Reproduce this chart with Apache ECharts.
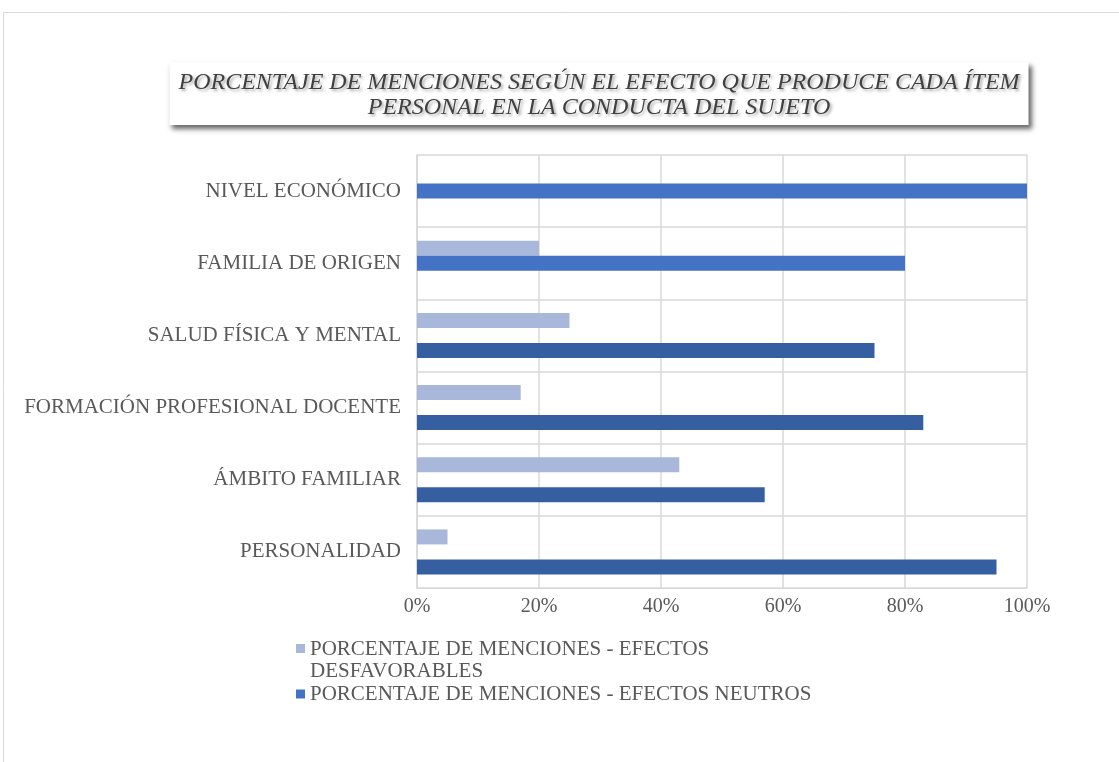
<!DOCTYPE html>
<html><head><meta charset="utf-8">
<script src="https://cdn.jsdelivr.net/npm/echarts@6/dist/echarts.min.js"></script>
<style>html,body{margin:0;padding:0;background:#fff}#c{width:1119px;height:762px}</style>
</head><body><div id="c"></div>
<script>
// Categories listed bottom-to-top (category axis runs upward)
const categories = ['PERSONALIDAD', 'ÁMBITO FAMILIAR', 'FORMACIÓN PROFESIONAL DOCENTE', 'SALUD FÍSICA Y MENTAL', 'FAMILIA DE ORIGEN', 'NIVEL ECONÓMICO'];
const desfavorables = [5, 43, 17, 25, 20, null];
const neutrosA = [null, null, null, null, 80, 100];   // centred bars (bright blue)
const neutrosB = [95, 57, 83, 75, null, null];       // offset bars (dark blue)
const xTicks = [0, 20, 40, 60, 80, 100];
const nameDesf = 'PORCENTAJE DE MENCIONES - EFECTOS DESFAVORABLES';
const nameNeu = 'PORCENTAJE DE MENCIONES - EFECTOS NEUTROS';
const titleText = 'PORCENTAJE DE MENCIONES SEGÚN EL EFECTO QUE PRODUCE CADA ÍTEM\nPERSONAL EN LA CONDUCTA DEL SUJETO';

const FONT = '"Liberation Serif", "Times New Roman", serif';
const chart = echarts.init(document.getElementById('c'));
chart.setOption({
  animation: false,
  textStyle: {fontFamily: FONT},
  graphic: [{type: 'rect', shape: {x: 3.5, y: 12.5, width: 1300, height: 900}, style: {fill: 'none', stroke: '#d9d9d9', lineWidth: 1}, silent: true}],
  title: {
    text: titleText,
    left: 590, top: 62, textAlign: 'center',
    backgroundColor: '#fff',
    padding: [8, 9, 5, 9],
    shadowBlur: 5, shadowColor: 'rgba(0,0,0,0.6)', shadowOffsetX: 3, shadowOffsetY: 4,
    textStyle: {fontFamily: FONT, fontStyle: 'italic', fontWeight: 'normal', fontSize: 24, lineHeight: 25, color: '#404040',
      textShadowColor: 'rgba(0,0,0,0.35)', textShadowBlur: 3, textShadowOffsetX: 2, textShadowOffsetY: 2}
  },
  legend: [
    {data: [nameDesf], orient: 'vertical', left: 296, top: 638, padding: 0,
     itemWidth: 9, itemHeight: 32, itemGap: 4,
     icon: 'path://M0,0L9,0L9,9L0,9Z M0,32L9,32L9,32L0,32Z',
     formatter: () => 'PORCENTAJE DE MENCIONES - EFECTOS\nDESFAVORABLES',
     textStyle: {fontFamily: FONT, fontSize: 21, lineHeight: 22, color: '#595959'}},
    {data: [nameNeu], orient: 'vertical', left: 296, top: 683, padding: 0,
     itemWidth: 9, itemHeight: 9, icon: 'rect',
     textStyle: {fontFamily: FONT, fontSize: 21, lineHeight: 22, color: '#595959'}}
  ],
  grid: {left: 417, right: 92, top: 155, bottom: 174, containLabel: false},
  xAxis: {
    type: 'value', min: 0, max: 100, interval: 20,
    axisLine: {show: true, lineStyle: {color: '#d9d9d9'}},
    axisTick: {show: false},
    splitLine: {show: true, lineStyle: {color: '#d9d9d9', width: 1.5}},
    axisLabel: {formatter: v => xTicks.includes(v) ? v + '%' : '', color: '#595959', fontSize: 20, fontFamily: FONT, margin: 9}
  },
  yAxis: {
    type: 'category', data: categories,
    axisLine: {show: true, lineStyle: {color: '#d9d9d9', width: 1.5}},
    axisTick: {show: false},
    splitLine: {show: true, lineStyle: {color: '#d9d9d9', width: 1.5}},
    axisLabel: {color: '#595959', fontSize: 21, fontFamily: FONT, margin: 16}
  },
  series: [
    {name: nameDesf, type: 'bar', data: desfavorables, barWidth: 15, barGap: '0%', itemStyle: {color: '#A9B7DB'}},
    {name: nameNeu, type: 'bar', data: neutrosA, barWidth: 15, barGap: '0%', itemStyle: {color: '#4472C4'}},
    {name: nameNeu + ' ', type: 'bar', data: neutrosB, barWidth: 15, barGap: '0%', itemStyle: {color: '#365FA1'}}
  ]
});
</script></body></html>
